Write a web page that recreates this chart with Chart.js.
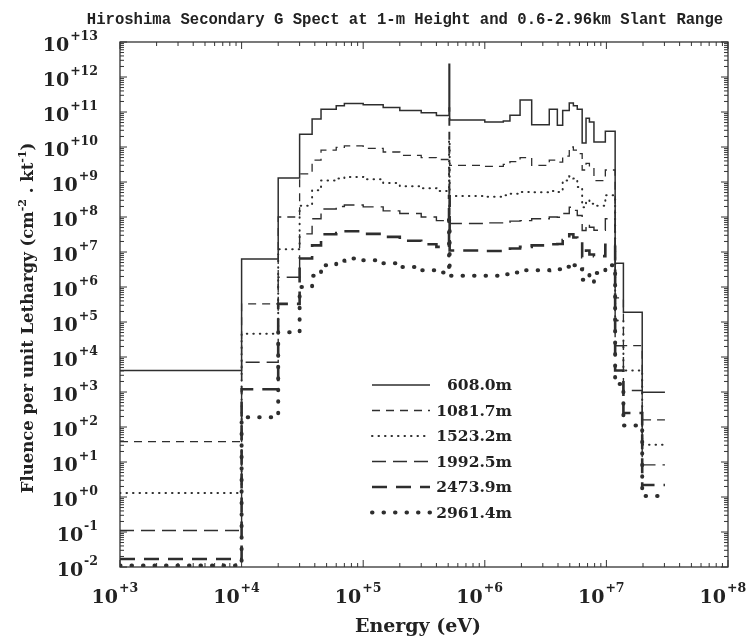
<!DOCTYPE html>
<html>
<head>
<meta charset="utf-8">
<script src="https://cdn.jsdelivr.net/npm/chart.js@4.4.1/dist/chart.umd.min.js"></script>
<style>
html, body { margin: 0; padding: 0; background: #fff; }
#wrap { width: 746px; height: 640px; position: relative; }
</style>
</head>
<body>
<div id="wrap"><canvas id="spectChart"></canvas></div>
<script>
// energy group boundaries (eV)
const energyEdges = [1e3, 1e4, 2e4, 3e4, 3.8e4, 4.5e4, 6e4, 7e4, 1e5, 1.46e5, 2e5, 3e5, 4e5,
    5.08e5, 5.14e5, 1e6, 1.42e6, 1.61e6, 1.95e6, 2.43e6, 3.39e6, 3.95e6, 4.37e6, 4.95e6,
    5.35e6, 5.76e6, 6.32e6, 6.8e6, 7.25e6, 7.9e6, 9.8e6, 1.18e7, 1.38e7, 1.97e7, 3.03e7];

// fluence per group, one list per slant range
const fluence608 = [4.1e3, 6.3e6, 1.3e9, 2.3e10, 6.3e10, 1.2e11, 1.5e11, 1.75e11, 1.6e11, 1.35e11, 1.1e11, 9.5e10,
    8.0e10, 2.3e12, 5.9e10, 5.2e10, 5.5e10, 8.1e10, 2.2e11, 4.3e10, 1.2e11, 4.2e10, 1.1e11, 1.8e11, 1.5e11,
    1.2e11, 1.3e10, 6.6e10, 5.2e10, 1.4e10, 2.8e10, 4.8e6, 1.9e5, 9.8e2];
const fluence1082 = [38, 3.3e5, 1.0e8, 1.7e9, 4.2e9, 8.1e9, 9.8e9, 1.07e10, 9.1e9, 7.2e9, 5.8e9, 5.0e9,
    4.4e9, 1.3e11, 3.0e9, 2.8e9, 3.2e9, 3.8e9, 5.0e9, 3.0e9, 4.2e9, 3.7e9, 5.5e9, 1.0e10, 8.1e9,
    6.5e9, 2.2e9, 3.4e9, 2.7e9, 1.1e9, 2.2e9, 4.9e5, 2.1e4, 1.6e2];
const fluence1523 = [1.3, 4.6e4, 1.2e7, 2.1e8, 5.8e8, 1.1e9, 1.26e9, 1.4e9, 1.2e9, 9.3e8, 7.6e8, 6.6e8,
    5.5e8, 1.6e10, 4.0e8, 3.8e8, 4.2e8, 4.6e8, 5.2e8, 5.1e8, 5.5e8, 5.2e8, 1.1e9, 1.45e9, 1.26e9,
    7.2e8, 1.9e8, 3.0e8, 2.4e8, 2.1e8, 4.2e8, 1.1e5, 4.1e3, 31];
const fluence1993 = [0.11, 7.1e3, 1.9e6, 3.3e7, 8.9e7, 1.7e8, 2.0e8, 2.2e8, 1.95e8, 1.5e8, 1.26e8, 1.0e8,
    7.9e7, 2.5e9, 6.5e7, 6.8e7, 7.1e7, 7.6e7, 7.9e7, 8.9e7, 1.0e8, 9.8e7, 1.26e8, 1.9e8, 1.55e8,
    1.1e8, 4.1e7, 6.3e7, 5.1e7, 4.2e7, 8.9e7, 2.1e4, 1.1e3, 8.3];
const fluence2474 = [0.017, 1.2e3, 3.3e5, 6.5e6, 1.55e7, 3.2e7, 3.5e7, 3.9e7, 3.3e7, 2.7e7, 2.1e7, 1.66e7,
    1.4e7, 4.0e8, 1.1e7, 1.07e7, 1.1e7, 1.26e7, 1.4e7, 1.55e7, 1.66e7, 1.7e7, 2.2e7, 3.2e7, 2.6e7,
    2.0e7, 7.1e6, 1.1e7, 8.5e6, 7.6e6, 1.6e7, 4.1e3, 2.5e2, 2.2];
const fluence2961 = [0.011, 1.9e2, 5.1e4, 1.0e6, 2.1e6, 4.2e6, 5.6e6, 6.5e6, 5.8e6, 4.8e6, 3.7e6, 3.0e6,
    2.6e6, 7.9e7, 2.1e6, 2.1e6, 2.3e6, 2.6e6, 3.0e6, 3.0e6, 3.2e6, 3.2e6, 3.8e6, 4.8e6, 4.2e6,
    3.2e6, 1.6e6, 2.2e6, 1.4e6, 2.5e6, 4.2e6, 1.7e3, 1.1e2, 1.07];

const rangeLabels = ["608.0m", "1081.7m", "1523.2m", "1992.5m", "2473.9m", "2961.4m"];
const xTickLabels = ["+3", "+4", "+5", "+6", "+7", "+8"];
const yTickLabels = ["-2", "-1", "+0", "+1", "+2", "+3", "+4", "+5", "+6", "+7", "+8", "+9", "+10", "+11", "+12", "+13"];

const chartTitle = "Hiroshima Secondary G Spect at 1-m Height and 0.6-2.96km Slant Range";
const xTitle = "Energy (eV)";

const lineColor = "#2e2e2e";
const lineStyles = [
    { width: 1.5, dash: [], cap: "butt" },
    { width: 1.3, dash: [8, 6], cap: "butt" },
    { width: 2, dash: [0.5, 6], cap: "round" },
    { width: 1.4, dash: [14, 7], cap: "butt" },
    { width: 2.6, dash: [15, 9], cap: "butt" },
    { width: 4, dash: [0.5, 11], cap: "round" }
];

// histogram: each group starts at its lower edge, last edge closes the final group
function stepPoints(values) {
    return energyEdges.map((e, i) => ({ x: e, y: values[Math.max(0, Math.min(i, values.length) - 1)] }));
}

const allSeries = [fluence608, fluence1082, fluence1523, fluence1993, fluence2474, fluence2961];

const datasets = allSeries.map((vals, i) => ({
    label: rangeLabels[i],
    data: stepPoints(vals),
    stepped: "after", // chart.js 'after': vertical at the start of each segment
    borderColor: lineColor,
    borderWidth: lineStyles[i].width,
    borderDash: lineStyles[i].dash,
    borderCapStyle: lineStyles[i].cap,
    pointRadius: 0,
    fill: false,
    tension: 0
}));

const serif = '"DejaVu Serif", "Liberation Serif", serif';

const decorPlugin = {
    id: "decor",
    afterDraw(chart) {
        const ctx = chart.ctx;
        const a = chart.chartArea;
        const xs = chart.scales.x;
        const ys = chart.scales.y;
        ctx.save();
        ctx.strokeStyle = "#333";
        ctx.fillStyle = "#222";

        // frame
        ctx.lineWidth = 1.3;
        ctx.strokeRect(a.left, a.top, a.right - a.left, a.bottom - a.top);

        // inward ticks on all four sides
        ctx.lineWidth = 1;
        ctx.beginPath();
        for (let d = 3; d <= 8; d++) {
            for (let k = 1; k <= 9; k++) {
                if (d === 8 && k > 1) break;
                const px = xs.getPixelForValue(k * Math.pow(10, d));
                const len = k === 1 ? 7 : 4;
                ctx.moveTo(px, a.bottom); ctx.lineTo(px, a.bottom - len);
                ctx.moveTo(px, a.top); ctx.lineTo(px, a.top + len);
            }
        }
        for (let d = -2; d <= 13; d++) {
            for (let k = 1; k <= 9; k++) {
                if (d === 13 && k > 1) break;
                const py = ys.getPixelForValue(k * Math.pow(10, d));
                const len = k === 1 ? 7 : 4;
                ctx.moveTo(a.left, py); ctx.lineTo(a.left + len, py);
                ctx.moveTo(a.right, py); ctx.lineTo(a.right - len, py);
            }
        }
        ctx.stroke();

        // x tick labels
        xTickLabels.forEach(lab => {
            const px = xs.getPixelForValue(Math.pow(10, parseInt(lab, 10)));
            ctx.font = "bold 19px " + serif;
            ctx.textAlign = "right";
            ctx.textBaseline = "alphabetic";
            ctx.fillText("10", px - 2, a.bottom + 36);
            ctx.font = "bold 12.5px " + serif;
            ctx.textAlign = "left";
            ctx.fillText(lab, px - 1, a.bottom + 25);
        });

        // y tick labels
        yTickLabels.forEach(lab => {
            const py = ys.getPixelForValue(Math.pow(10, parseInt(lab, 10)));
            ctx.font = "bold 12.5px " + serif;
            ctx.textAlign = "right";
            const w = ctx.measureText(lab).width;
            ctx.fillText(lab, 98, py - 2);
            ctx.font = "bold 19px " + serif;
            ctx.fillText("10", 98 - w - 1, py + 9);
        });

        // title
        ctx.font = 'bold 15.6px "Liberation Mono", monospace';
        ctx.textAlign = "center";
        ctx.fillText(chartTitle, 405, 24);

        // x axis title
        ctx.font = "bold 19px " + serif;
        ctx.fillText(xTitle, 418, 632);

        // y axis title with superscripts
        const parts = [
            ["Fluence per unit Lethargy (cm", false], ["-2", true],
            [" . kt", false], ["-1", true], [")", false]
        ];
        const bigFont = "bold 16.5px " + serif;
        const supFont = "bold 11px " + serif;
        let total = 0;
        parts.forEach(p => { ctx.font = p[1] ? supFont : bigFont; total += ctx.measureText(p[0]).width; });
        ctx.translate(33, 318);
        ctx.rotate(-Math.PI / 2);
        ctx.textAlign = "left";
        let cx = -total / 2;
        parts.forEach(p => {
            ctx.font = p[1] ? supFont : bigFont;
            ctx.fillText(p[0], cx, p[1] ? -7 : 0);
            cx += ctx.measureText(p[0]).width;
        });
        ctx.setTransform(1, 0, 0, 1, 0, 0);

        // legend
        chart.data.datasets.forEach((ds, i) => {
            const y = 385 + i * 25.5;
            ctx.beginPath();
            ctx.lineWidth = ds.borderWidth;
            ctx.setLineDash(ds.borderDash);
            ctx.lineCap = ds.borderCapStyle;
            ctx.strokeStyle = ds.borderColor;
            ctx.moveTo(372, y);
            ctx.lineTo(430, y);
            ctx.stroke();
            ctx.setLineDash([]);
            ctx.font = "bold 15.5px " + serif;
            ctx.textAlign = "right";
            ctx.textBaseline = "middle";
            ctx.fillText(ds.label, 512, y + 1);
        });
        ctx.restore();
    }
};

new Chart(document.getElementById("spectChart"), {
    type: "line",
    data: { datasets },
    options: {
        responsive: true,
        maintainAspectRatio: false,
        animation: false,
        layout: { padding: { left: 120, top: 42, right: 18, bottom: 73 } },
        plugins: { legend: { display: false }, title: { display: false }, tooltip: { enabled: false } },
        scales: {
            x: { type: "logarithmic", min: 1e3, max: 1e8, display: false },
            y: { type: "logarithmic", min: 1e-2, max: 1e13, display: false }
        }
    },
    plugins: [decorPlugin]
});
</script>
</body>
</html>
